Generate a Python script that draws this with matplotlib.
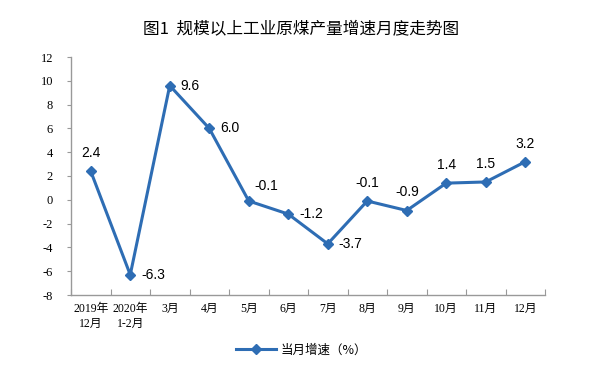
import matplotlib
matplotlib.use("Agg")
import matplotlib.pyplot as plt
import numpy as np

categories = ["2019年\n12月", "2020年\n1-2月", "3月", "4月", "5月", "6月", "7月", "8月", "9月", "10月", "11月", "12月"]
values = [2.4, -6.3, 9.6, 6.0, -0.1, -1.2, -3.7, -0.1, -0.9, 1.4, 1.5, 3.2]
label_pos = ["above", "right", "right", "right", "upright", "right", "right", "above", "above", "above", "above", "above"]
yticks = list(range(-8, 13, 2))

color = "#2E6DB4"
cjk = ["Noto Sans CJK SC", "DejaVu Sans"]
serif = ["Liberation Serif", "Noto Sans CJK SC"]

fig = plt.figure(figsize=(6.03, 3.77), dpi=100)
ax = fig.add_axes([71/603, 1-295/377, 474/603, 238/377])

x = np.arange(len(values))
line, = ax.plot(x, values, color=color, lw=2.2, marker="D", ms=5, label="当月增速（%）")

for xi, v, pos in zip(x, values, label_pos):
    txt = f"{v:.1f}"
    if pos == "above":
        ax.annotate(txt, (xi, v), xytext=(0, 8), textcoords="offset points", ha="center", va="bottom",
                    fontsize=10, family="Liberation Sans")
    elif pos == "right":
        ax.annotate(txt, (xi, v), xytext=(8, 0), textcoords="offset points", ha="left", va="center",
                    fontsize=10, family="Liberation Sans")
    else:
        ax.annotate(txt, (xi, v), xytext=(4, 6), textcoords="offset points", ha="left", va="bottom",
                    fontsize=10, family="Liberation Sans")

ax.set_xlim(-0.5, len(values) - 0.5)
ax.set_ylim(-8, 12)
ax.set_yticks(yticks)
ax.set_yticklabels([str(t) for t in yticks], family="Liberation Serif", fontsize=9)

ax.set_xticks(np.arange(-0.5, len(values), 1.0))
ax.set_xticklabels([])
ax.set_xticks(x, minor=True)
ax.set_xticklabels(categories, minor=True, family=serif, fontsize=8.5, linespacing=1.3)
ax.tick_params(axis="x", which="minor", length=0, pad=6)
ax.tick_params(axis="x", which="major", length=4, color="#999999", direction="in")
ax.tick_params(axis="y", length=3, color="#999999", direction="out", pad=10)
for s in ["top", "right"]:
    ax.spines[s].set_visible(False)
for s in ["left", "bottom"]:
    ax.spines[s].set_color("#999999")
    ax.spines[s].set_linewidth(1.0)

fig.text(0.5, 1-30/377, "图1  规模以上工业原煤产量增速月度走势图", ha="center", va="center",
         fontsize=12, family=cjk)

fig.legend(handles=[line], loc="center", bbox_to_anchor=(0.5, 1-350/377), frameon=False,
           prop={"family": cjk, "size": 9}, handlelength=3.2, handletextpad=0.3)

fig.savefig("out.png", dpi=100)
